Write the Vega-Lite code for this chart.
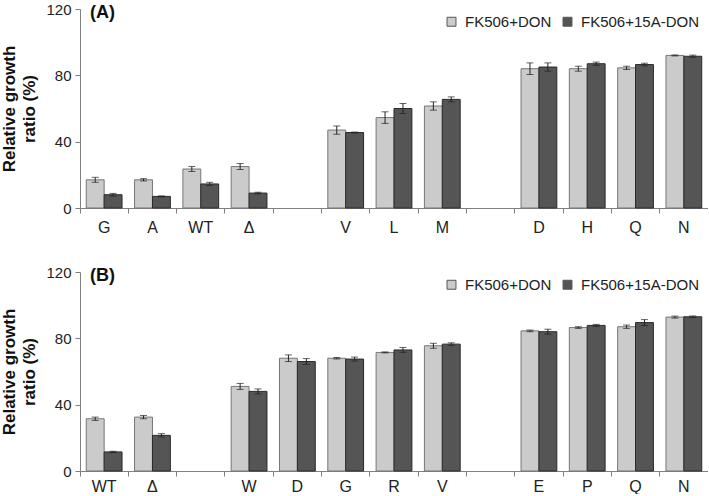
{
  "$schema": "https://vega.github.io/schema/vega-lite/v6.json",
  "background": "white",
  "padding": {"left": 0, "top": 2, "right": 0, "bottom": 0},
  "config": {
    "font": "Liberation Sans",
    "view": {"stroke": null},
    "axis": {"domainColor": "#808080", "tickColor": "#808080", "labelColor": "#222", "labelFontSize": 15, "grid": false, "tickSize": 5},
    "legend": {"labelFontSize": 15, "labelColor": "#222"}
  },
  "datasets": {
    "A": [
      {"strain": "G", "treatment": "FK506+DON", "ratio": 17, "lo": 15.5, "hi": 18.5},
      {"strain": "G", "treatment": "FK506+15A-DON", "ratio": 8, "lo": 7.2, "hi": 8.8},
      {"strain": "A", "treatment": "FK506+DON", "ratio": 17, "lo": 16.3, "hi": 17.7},
      {"strain": "A", "treatment": "FK506+15A-DON", "ratio": 7, "lo": 6.7, "hi": 7.3},
      {"strain": "WT", "treatment": "FK506+DON", "ratio": 23.5, "lo": 22, "hi": 25},
      {"strain": "WT", "treatment": "FK506+15A-DON", "ratio": 14.5, "lo": 13.5, "hi": 15.5},
      {"strain": "Δ", "treatment": "FK506+DON", "ratio": 25, "lo": 23.2, "hi": 26.8},
      {"strain": "Δ", "treatment": "FK506+15A-DON", "ratio": 9, "lo": 8.5, "hi": 9.5},
      {"strain": "V", "treatment": "FK506+DON", "ratio": 47, "lo": 44.5, "hi": 49.5},
      {"strain": "V", "treatment": "FK506+15A-DON", "ratio": 45.5, "lo": 45.2, "hi": 45.8},
      {"strain": "L", "treatment": "FK506+DON", "ratio": 54.5, "lo": 51, "hi": 58},
      {"strain": "L", "treatment": "FK506+15A-DON", "ratio": 60, "lo": 57, "hi": 63},
      {"strain": "M", "treatment": "FK506+DON", "ratio": 61.5, "lo": 59, "hi": 64},
      {"strain": "M", "treatment": "FK506+15A-DON", "ratio": 65.5, "lo": 64, "hi": 67},
      {"strain": "D", "treatment": "FK506+DON", "ratio": 84, "lo": 80.5, "hi": 87.5},
      {"strain": "D", "treatment": "FK506+15A-DON", "ratio": 85, "lo": 82.5, "hi": 87.5},
      {"strain": "H", "treatment": "FK506+DON", "ratio": 84, "lo": 82.5, "hi": 85.5},
      {"strain": "H", "treatment": "FK506+15A-DON", "ratio": 87, "lo": 86, "hi": 88},
      {"strain": "Q", "treatment": "FK506+DON", "ratio": 84.5, "lo": 83.5, "hi": 85.5},
      {"strain": "Q", "treatment": "FK506+15A-DON", "ratio": 86.5, "lo": 85.7, "hi": 87.3},
      {"strain": "N", "treatment": "FK506+DON", "ratio": 92, "lo": 91.7, "hi": 92.3},
      {"strain": "N", "treatment": "FK506+15A-DON", "ratio": 91.5, "lo": 90.8, "hi": 92.2}
    ],
    "B": [
      {"strain": "WT", "treatment": "FK506+DON", "ratio": 31.5, "lo": 30.5, "hi": 32.5},
      {"strain": "WT", "treatment": "FK506+15A-DON", "ratio": 11.5, "lo": 11.1, "hi": 11.9},
      {"strain": "Δ", "treatment": "FK506+DON", "ratio": 32.5, "lo": 31.5, "hi": 33.5},
      {"strain": "Δ", "treatment": "FK506+15A-DON", "ratio": 21.5, "lo": 20.5, "hi": 22.5},
      {"strain": "W", "treatment": "FK506+DON", "ratio": 51, "lo": 49.2, "hi": 52.8},
      {"strain": "W", "treatment": "FK506+15A-DON", "ratio": 48, "lo": 46.5, "hi": 49.5},
      {"strain": "D", "treatment": "FK506+DON", "ratio": 68, "lo": 66, "hi": 70},
      {"strain": "D", "treatment": "FK506+15A-DON", "ratio": 66, "lo": 64.2, "hi": 67.8},
      {"strain": "G", "treatment": "FK506+DON", "ratio": 68, "lo": 67.6, "hi": 68.4},
      {"strain": "G", "treatment": "FK506+15A-DON", "ratio": 67.5, "lo": 66.3, "hi": 68.7},
      {"strain": "R", "treatment": "FK506+DON", "ratio": 71.5, "lo": 71.2, "hi": 71.8},
      {"strain": "R", "treatment": "FK506+15A-DON", "ratio": 73, "lo": 71.5, "hi": 74.5},
      {"strain": "V", "treatment": "FK506+DON", "ratio": 75.5, "lo": 74, "hi": 77},
      {"strain": "V", "treatment": "FK506+15A-DON", "ratio": 76.5, "lo": 75.7, "hi": 77.3},
      {"strain": "E", "treatment": "FK506+DON", "ratio": 84.5, "lo": 84, "hi": 85},
      {"strain": "E", "treatment": "FK506+15A-DON", "ratio": 84, "lo": 82.5, "hi": 85.5},
      {"strain": "P", "treatment": "FK506+DON", "ratio": 86.5, "lo": 86, "hi": 87},
      {"strain": "P", "treatment": "FK506+15A-DON", "ratio": 87.8, "lo": 87.2, "hi": 88.4},
      {"strain": "Q", "treatment": "FK506+DON", "ratio": 87, "lo": 86, "hi": 88},
      {"strain": "Q", "treatment": "FK506+15A-DON", "ratio": 89.5, "lo": 87.7, "hi": 91.3},
      {"strain": "N", "treatment": "FK506+DON", "ratio": 92.8, "lo": 92.2, "hi": 93.4},
      {"strain": "N", "treatment": "FK506+15A-DON", "ratio": 93, "lo": 92.5, "hi": 93.5}
    ]
  },
  "vconcat": [
    {
      "data": {"name": "A"},
      "width": 628,
      "height": 199,
      "title": {"text": "(A)", "anchor": "start", "frame": "group", "offset": -20, "dx": 10, "fontSize": 18, "fontWeight": "bold", "color": "#111"},
      "encoding": {
        "x": {"field": "strain", "type": "nominal", "sort": null,
          "scale": {"domain": ["G", "A", "WT", "Δ", " ", "V", "L", "M", "  ", "D", "H", "Q", "N"], "paddingInner": 0, "paddingOuter": 0},
          "axis": {"title": null, "labelAngle": 0, "bandPosition": 0, "labelPadding": 6, "labelFontSize": 16}},
        "xOffset": {"field": "treatment", "type": "nominal", "sort": ["FK506+DON", "FK506+15A-DON"], "scale": {"paddingInner": 0, "paddingOuter": 0.35}}
      },
      "layer": [
        {
          "mark": {"type": "bar", "strokeWidth": 1},
          "encoding": {
            "y": {"field": "ratio", "type": "quantitative", "scale": {"domain": [0, 120]},
              "axis": {"values": [0, 40, 80, 120], "labelPadding": 4, "title": ["Relative growth", "ratio (%)"], "titleFontSize": 17, "titleFontWeight": "bold", "titleColor": "#111", "titlePadding": 7, "titleLineHeight": 20}},
            "fill": {"field": "treatment", "type": "nominal", "sort": ["FK506+DON", "FK506+15A-DON"],
              "scale": {"range": ["#cbcbcb", "#555555"]},
              "legend": {"title": null, "orient": "none", "legendX": 364, "legendY": 5, "direction": "horizontal", "symbolType": "square", "symbolSize": 80, "symbolStrokeColor": "#555", "symbolStrokeWidth": 1, "columnPadding": 8, "labelOffset": 6}},
            "stroke": {"field": "treatment", "type": "nominal", "sort": ["FK506+DON", "FK506+15A-DON"], "scale": {"range": ["#777777", "#2a2a2a"]}, "legend": null}
          }
        },
        {
          "mark": {"type": "rule", "color": "#222", "strokeWidth": 1},
          "encoding": {"y": {"field": "lo", "type": "quantitative"}, "y2": {"field": "hi"}}
        },
        {
          "mark": {"type": "tick", "color": "#222", "size": 7, "thickness": 1},
          "encoding": {"y": {"field": "lo", "type": "quantitative"}}
        },
        {
          "mark": {"type": "tick", "color": "#222", "size": 7, "thickness": 1},
          "encoding": {"y": {"field": "hi", "type": "quantitative"}}
        }
      ]
    },
    {
      "data": {"name": "B"},
      "width": 628,
      "height": 199,
      "title": {"text": "(B)", "anchor": "start", "frame": "group", "offset": -20, "dx": 10, "fontSize": 18, "fontWeight": "bold", "color": "#111"},
      "encoding": {
        "x": {"field": "strain", "type": "nominal", "sort": null,
          "scale": {"domain": ["WT", "Δ", " ", "W", "D", "G", "R", "V", "  ", "E", "P", "Q", "N"], "paddingInner": 0, "paddingOuter": 0},
          "axis": {"title": null, "labelAngle": 0, "bandPosition": 0, "labelPadding": 2, "labelFontSize": 16}},
        "xOffset": {"field": "treatment", "type": "nominal", "sort": ["FK506+DON", "FK506+15A-DON"], "scale": {"paddingInner": 0, "paddingOuter": 0.35}}
      },
      "layer": [
        {
          "mark": {"type": "bar", "strokeWidth": 1},
          "encoding": {
            "y": {"field": "ratio", "type": "quantitative", "scale": {"domain": [0, 120]},
              "axis": {"values": [0, 40, 80, 120], "labelPadding": 4, "title": ["Relative growth", "ratio (%)"], "titleFontSize": 17, "titleFontWeight": "bold", "titleColor": "#111", "titlePadding": 7, "titleLineHeight": 20}},
            "fill": {"field": "treatment", "type": "nominal", "sort": ["FK506+DON", "FK506+15A-DON"],
              "scale": {"range": ["#cbcbcb", "#555555"]},
              "legend": {"title": null, "orient": "none", "legendX": 364, "legendY": 5, "direction": "horizontal", "symbolType": "square", "symbolSize": 80, "symbolStrokeColor": "#555", "symbolStrokeWidth": 1, "columnPadding": 8, "labelOffset": 6}},
            "stroke": {"field": "treatment", "type": "nominal", "sort": ["FK506+DON", "FK506+15A-DON"], "scale": {"range": ["#777777", "#2a2a2a"]}, "legend": null}
          }
        },
        {
          "mark": {"type": "rule", "color": "#222", "strokeWidth": 1},
          "encoding": {"y": {"field": "lo", "type": "quantitative"}, "y2": {"field": "hi"}}
        },
        {
          "mark": {"type": "tick", "color": "#222", "size": 7, "thickness": 1},
          "encoding": {"y": {"field": "lo", "type": "quantitative"}}
        },
        {
          "mark": {"type": "tick", "color": "#222", "size": 7, "thickness": 1},
          "encoding": {"y": {"field": "hi", "type": "quantitative"}}
        }
      ]
    }
  ],
  "resolve": {"scale": {"fill": "independent", "stroke": "independent"}, "legend": {"fill": "independent"}},
  "spacing": 30
}
